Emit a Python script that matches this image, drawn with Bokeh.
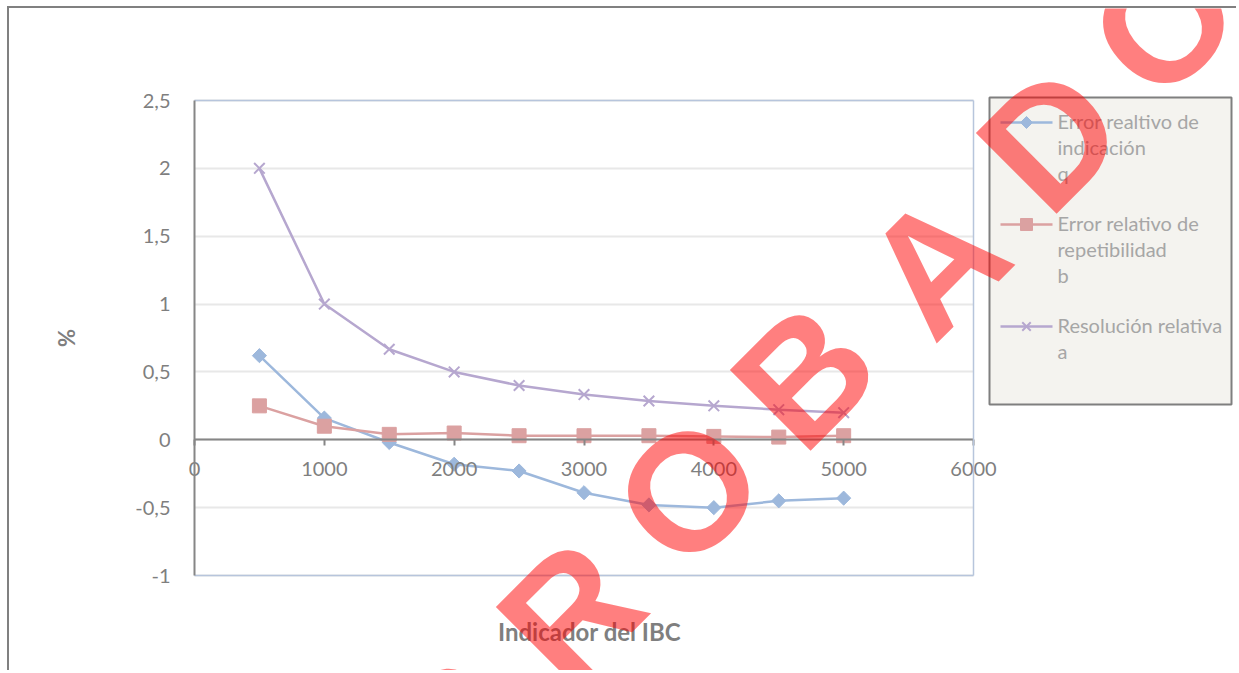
from bokeh.plotting import figure
from bokeh.models import Label, FixedTicker, LinearAxis, Grid, Range1d
from bokeh.core.properties import value
from bokeh.embed import file_html
from bokeh.resources import INLINE

# ---------------- data ----------------
x_values = [500, 1000, 1500, 2000, 2500, 3000, 3500, 4000, 4500, 5000]
error_indicacion_q = [0.62, 0.16, -0.02, -0.18, -0.23, -0.39, -0.48, -0.50, -0.45, -0.43]
error_repetibilidad_b = [0.25, 0.10, 0.04, 0.05, 0.03, 0.03, 0.03, 0.025, 0.02, 0.03]
resolucion_a = [2.0, 1.0, 0.667, 0.5, 0.4, 0.333, 0.286, 0.25, 0.222, 0.2]

legend_q = ["Error realtivo de", "indicación", "q"]
legend_b = ["Error relativo de", "repetibilidad", "b"]
legend_a = ["Resolución relativa", "a"]

x_ticks = [0, 1000, 2000, 3000, 4000, 5000, 6000]
y_ticks = [-1, -0.5, 0, 0.5, 1, 1.5, 2, 2.5]
y_tick_labels = ["-1", "-0,5", "0", "0,5", "1", "1,5", "2", "2,5"]
x_title = "Indicador del  IBC"
y_title = "%"
watermark = "APROBADO"

# ---------------- layout (pixels) ----------------
W, H = 1229, 664            # canvas size
CX, CY = 9, 8               # canvas origin on page
PL, PR, PT, PB = 194, 973, 100, 575   # plot area on page
XMIN, XMAX = x_ticks[0], x_ticks[-1]
YMIN, YMAX = y_ticks[0], y_ticks[-1]
kx = (PR - PL) / (XMAX - XMIN)
ky = (PB - PT) / (YMAX - YMIN)
x_range = Range1d(XMIN - (PL - CX) / kx, XMAX + (CX + W - PR) / kx)
y_range = Range1d(YMIN - (CY + H - PB) / ky, YMAX + (PT - CY) / ky)


def xd(px):  # page pixel -> data x (used only for the legend box placement)
    return XMIN + (px - PL) / kx


def yd(py):
    return YMIN + (PB - py) / ky


BLUE = "#9DB8DC"
RED = "#DBA1A1"
PURPLE = "#B6A7CF"
GRAY = "#7f7f7f"
AXIS = "#868686"
FRAME = "#b7c5dc"
GRID = "#e8e8e8"
FONT = "Lato"

p = figure(width=W, height=H, x_range=x_range, y_range=y_range,
           output_backend="svg", toolbar_location=None,
           x_axis_location=None, y_axis_location=None,
           min_border=0, min_border_left=0, min_border_right=0,
           min_border_top=0, min_border_bottom=0)
p.styles = {"margin-left": "7px", "margin-top": "6px",
            "border-left": "2px solid #808080", "border-top": "2px solid #808080"}
p.outline_line_color = None
p.grid.visible = False

# horizontal gridlines, limited to the plot area
if "cross_bounds" in Grid.properties():
    p.add_layout(Grid(dimension=1, ticker=FixedTicker(ticks=y_ticks), bounds=(YMIN, YMAX),
                      cross_bounds=(XMIN, XMAX), grid_line_color=GRID, grid_line_width=2))
else:
    p.segment(x0=[XMIN] * len(y_ticks), x1=[XMAX] * len(y_ticks), y0=y_ticks, y1=y_ticks,
              line_color=GRID, line_width=2, level="underlay")


def bare_axis(**kw):
    return LinearAxis(ticker=FixedTicker(ticks=[]), major_tick_out=0, major_tick_in=0,
                      minor_tick_out=0, minor_tick_in=0, axis_line_color=FRAME,
                      axis_line_width=1.5, major_label_text_font_size="0px", **kw)


# plot-area frame (top, bottom, right)
p.add_layout(bare_axis(fixed_location=YMAX, bounds=(XMIN, XMAX)), "above")
p.add_layout(bare_axis(fixed_location=YMIN, bounds=(XMIN, XMAX)), "below")
p.add_layout(bare_axis(fixed_location=XMAX, bounds=(YMIN, YMAX)), "right")

# x axis at y = 0
xa = LinearAxis(fixed_location=0, bounds=(XMIN, XMAX), ticker=FixedTicker(ticks=x_ticks),
                major_tick_out=6, major_tick_in=0, minor_tick_out=0, minor_tick_in=0,
                axis_line_color=AXIS, axis_line_width=2,
                major_tick_line_color=AXIS, major_tick_line_width=2,
                major_label_text_font=FONT, major_label_text_font_size="20px",
                major_label_text_color=GRAY, major_label_standoff=16)
p.add_layout(xa, "below")

# y axis at x = 0
ya = LinearAxis(fixed_location=0, bounds=(YMIN, YMAX), ticker=FixedTicker(ticks=y_ticks),
                major_label_overrides=dict(zip(y_ticks, y_tick_labels)),
                major_tick_out=0, major_tick_in=0, minor_tick_out=0, minor_tick_in=0,
                axis_line_color=AXIS, axis_line_width=2,
                major_label_text_font=FONT, major_label_text_font_size="20px",
                major_label_text_color=GRAY, major_label_standoff=24,
                axis_label=y_title, axis_label_text_font=FONT,
                axis_label_text_font_style="bold", axis_label_text_font_size="22px",
                axis_label_text_color=GRAY, axis_label_standoff=52)
p.add_layout(ya, "left")

# ---------------- series ----------------
p.line(x_values, error_indicacion_q, line_color=BLUE, line_width=2.5)
p.scatter(x_values, error_indicacion_q, marker="square", angle=0.785398,
          size=10, fill_color=BLUE, line_color=BLUE)
p.line(x_values, error_repetibilidad_b, line_color=RED, line_width=2.5)
p.scatter(x_values, error_repetibilidad_b, marker="square", size=14,
          fill_color=RED, line_color=RED)
p.line(x_values, resolucion_a, line_color=PURPLE, line_width=2.5)
p.scatter(x_values, resolucion_a, marker="x", size=15, line_color=PURPLE, line_width=2)

# ---------------- legend (drawn on the canvas so the watermark can cover it) ----------------
LX0, LX1, LY0, LY1 = 989, 1231, 97, 404
p.quad(left=[xd(LX0)], right=[xd(LX1)], top=[yd(LY0)], bottom=[yd(LY1)],
       fill_color="#f4f3ef", line_color="#7f7f7f", line_width=2)
entries = [(legend_q, BLUE, "square", 0.785398, 8.5),
           (legend_b, RED, "square", 0.0, 12),
           (legend_a, PURPLE, "x", 0.0, 12)]
ROW0, ENTRY_STEP, LINE_STEP = 122, 102, 26
for k, (lines, color, marker, ang, msize) in enumerate(entries):
    yk = ROW0 + ENTRY_STEP * k
    p.segment(x0=[xd(1000)], x1=[xd(1052)], y0=[yd(yk)], y1=[yd(yk)],
              line_color=color, line_width=2.5)
    p.scatter([xd(1026)], [yd(yk)], marker=marker, angle=ang, size=msize,
              fill_color=color, line_color=color, line_width=2 if marker == "x" else 1)
    p.text(x=[xd(1057)] * len(lines),
           y=[yd(yk - 2 + LINE_STEP * i) for i in range(len(lines))],
           text=lines, text_font=value(FONT), text_font_size=value("20px"),
           text_color="#a6a6a6", text_align="left", text_baseline="middle")

p.add_layout(Label(x=592 - CX, y=CY + H - 631, x_units="screen", y_units="screen",
                   text=x_title, text_align="center", text_baseline="middle",
                   text_font=FONT, text_font_style="bold", text_font_size="24px",
                   text_color=GRAY))

# ---------------- watermark ----------------
wm_page = [(452, 729), (570, 612), (688, 491), (804, 375), (935, 263), (1050, 138), (1163, 22)]
for letter, (px, py) in zip(watermark[1:], wm_page):
    p.add_layout(Label(x=px - CX, y=CY + H - py, x_units="screen", y_units="screen",
                       text=letter, angle=45, angle_units="deg", level="overlay",
                       text_font="Liberation Sans", text_font_style="bold",
                       text_font_size="166px", text_color="red", text_alpha=0.5,
                       text_align="center", text_baseline="middle"))

open("out.html", "w").write(file_html(p, INLINE))
